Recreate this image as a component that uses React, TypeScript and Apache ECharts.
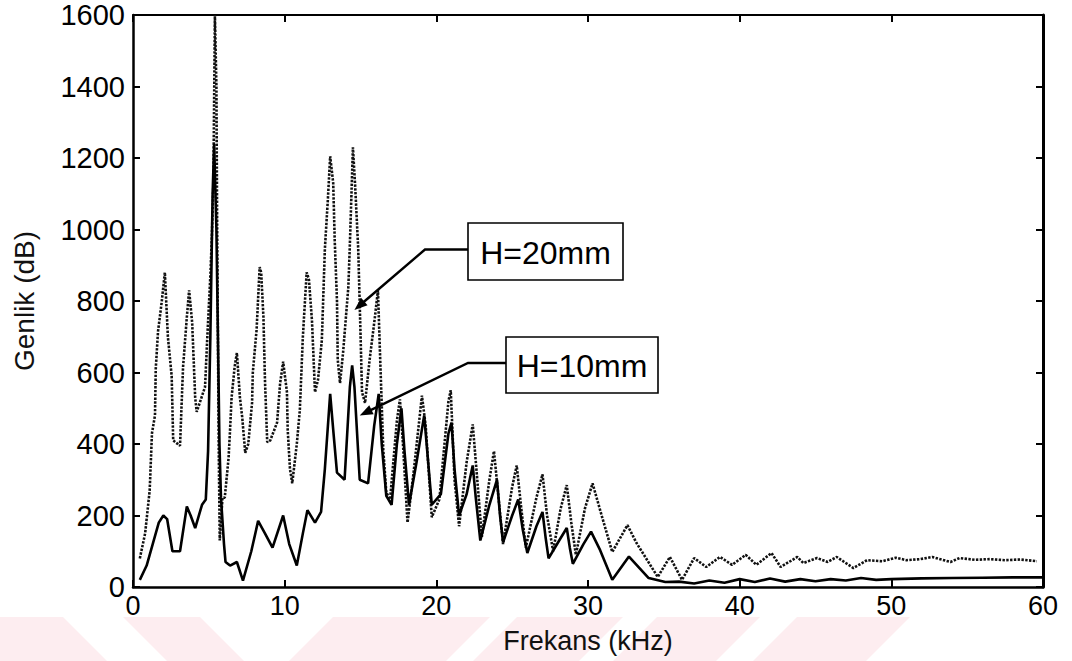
import React, { useEffect, useRef } from "react";
import * as echarts from "echarts";

// H=20mm (dotted line)
const h20Freq = [
  0.45, 0.8, 1.1, 1.25, 1.45, 1.5, 1.65, 1.9, 2.1, 2.3, 2.55, 2.65, 3.1, 3.3, 3.55, 3.7, 3.9, 4.1, 4.2, 4.4,
  4.75, 4.9, 5.1, 5.2, 5.3, 5.4, 5.5, 5.55, 5.6, 5.65, 5.72, 5.9, 6.05, 6.3, 6.4, 6.5, 6.7, 6.85, 7.05, 7.2,
  7.4, 7.6, 7.85, 7.9, 8.15, 8.35, 8.45, 8.6, 8.7, 8.85, 9.05, 9.5, 9.7, 9.9, 10.15, 10.2, 10.35, 10.5, 10.8, 11.0,
  11.2, 11.45, 11.6, 11.8, 11.9, 12.0, 12.2, 12.45, 12.65, 12.85, 13.0, 13.2, 13.3, 13.45, 13.5, 13.65, 13.85, 14.2, 14.3, 14.5,
  14.65, 14.85, 15.0, 15.1, 15.3, 15.6, 15.95, 16.15, 16.3, 16.5, 16.7, 16.95, 17.4, 17.6, 17.8, 18.1, 18.5, 19.05, 19.3, 19.7,
  20.2, 20.8, 20.95, 21.2, 21.5, 22.0, 22.4, 22.7, 23.0, 23.5, 23.8, 24.1, 24.4, 25.0, 25.3, 25.6, 25.9, 26.6, 27.0, 27.3,
  27.7, 28.2, 28.6, 28.9, 29.2, 29.8, 30.3, 30.9, 31.6, 32.6, 33.2, 34.6, 35.4, 36.2, 37.0, 37.8, 38.7, 39.5, 40.4, 41.1,
  42.1, 42.7, 43.8, 44.2, 45.1, 45.8, 46.4, 47.5, 48.4, 49.4, 50.3, 51.0, 51.9, 52.7, 53.9, 54.5, 55.5, 56.5, 57.5, 58.5,
  59.6,
];
const h20Amp = [
  80, 150, 270, 430, 480, 610, 715, 800, 880, 700, 590, 410, 395, 615, 755, 830, 740, 530, 490, 515,
  560, 700, 870, 980, 1130, 1600, 1400, 1000, 700, 400, 130, 250, 250, 360, 440, 530, 615, 655, 530, 475,
  375, 400, 515, 600, 720, 895, 880, 755, 580, 405, 410, 460, 570, 630, 545, 440, 330, 290, 400, 495,
  700, 880, 860, 745, 645, 545, 580, 690, 945, 1085, 1205, 1130, 970, 800, 635, 570, 655, 840, 960, 1230,
  1120, 945, 710, 545, 515, 635, 755, 830, 635, 385, 265, 245, 465, 525, 400, 180, 320, 535, 450, 195,
  245, 520, 550, 300, 170, 350, 455, 300, 140, 300, 380, 250, 120, 280, 340, 220, 110, 250, 315, 200,
  100, 220, 285, 180, 90, 220, 290, 200, 98, 173, 123, 28, 84, 20, 81, 56, 84, 62, 90, 62,
  95, 56, 84, 67, 81, 70, 84, 53, 75, 72, 82, 75, 78, 84, 70, 81, 76, 78, 75, 77,
  72,
];

// H=10mm (solid line)
const h10Freq = [
  0.45, 0.9, 1.3, 1.7, 2.0, 2.25, 2.6, 3.1, 3.55, 3.8, 4.1, 4.55, 4.8, 4.95, 5.1, 5.25, 5.35, 5.5, 5.6, 5.7,
  5.8, 6.0, 6.1, 6.4, 6.85, 7.25, 7.8, 8.25, 8.7, 9.2, 9.9, 10.3, 10.8, 11.2, 11.5, 12.0, 12.4, 12.65, 13.0, 13.2,
  13.45, 13.95, 14.3, 14.45, 14.6, 14.95, 15.5, 15.9, 16.2, 16.4, 16.7, 17.05, 17.4, 17.7, 17.9, 18.2, 18.7, 19.2, 19.4, 19.7,
  20.3, 20.8, 21.0, 21.2, 21.5, 22.0, 22.4, 22.6, 22.9, 23.5, 24.0, 24.2, 24.4, 25.0, 25.4, 25.7, 26.0, 26.6, 27.0, 27.2,
  27.4, 28.1, 28.6, 28.8, 29.0, 29.7, 30.2, 30.8, 31.6, 32.7, 34.0, 35.1, 36.0, 37.0, 38.0, 39.0, 40.0, 41.0, 42.0, 43.0,
  44.0, 45.0, 46.0, 47.0, 48.0, 49.0, 50.0, 52.0, 54.0, 56.0, 58.0, 60.0,
];
const h10Amp = [
  20, 60, 120, 180, 200, 190, 100, 100, 225, 200, 165, 230, 245, 380, 700, 1100, 1240, 1000, 700, 400,
  250, 120, 70, 60, 70, 18, 100, 185, 150, 110, 200, 120, 60, 150, 215, 180, 210, 330, 540, 440,
  320, 300, 560, 620, 560, 300, 290, 450, 540, 400, 255, 230, 400, 500, 380, 230, 350, 480, 380, 230,
  260, 430, 460, 330, 200, 260, 340, 250, 130, 230, 300, 200, 125, 200, 245, 160, 95, 170, 210, 140,
  80, 130, 165, 110, 65, 120, 155, 103, 20, 85, 25, 14, 15, 10, 18, 12, 22, 14, 24, 15,
  22, 16, 22, 18, 25, 20, 22, 24, 25, 26, 27, 27,
];

const seriesNames = ["H=20mm", "H=10mm"];
// annotation anchor points (data coordinates the arrows point at)
const arrowTargets: [number, number][] = [
  [14.6, 775],
  [14.95, 480],
];

const FONT = "'Liberation Sans', Arial, Helvetica, sans-serif";

function zip(xs: number[], ys: number[]) {
  return xs.map((x, i) => [x, ys[i]]);
}

export default function App() {
  const ref = useRef<HTMLDivElement>(null);

  useEffect(() => {
    const el = ref.current!;
    const chart = echarts.init(el, undefined, { renderer: "svg", width: 1072, height: 661 });

    const lineBlack = (w: number) => ({ show: true, onZero: false, lineStyle: { color: "#000", width: w } });
    const tickIn = { show: true, inside: true, length: 7, lineStyle: { color: "#000", width: 2 } };
    const plain = (v: number) => String(v);

    chart.setOption({
      animation: false,
      backgroundColor: "#ffffff",
      grid: { left: 133, right: 29, top: 15, bottom: 74, containLabel: false },
      xAxis: [
        {
          type: "value",
          min: 0,
          max: 60,
          interval: 10,
          position: "bottom",
          axisLine: lineBlack(2.5),
          axisTick: tickIn,
          splitLine: { show: false },
          axisLabel: { color: "#000", fontSize: 27, fontFamily: FONT, margin: 5, formatter: plain },
          name: "Frekans (kHz)",
          nameLocation: "middle",
          nameGap: 40,
          nameTextStyle: { color: "#111", fontSize: 27, fontFamily: FONT },
        },
        {
          type: "value",
          min: 0,
          max: 60,
          interval: 10,
          position: "top",
          axisLine: lineBlack(2),
          axisTick: tickIn,
          splitLine: { show: false },
          axisLabel: { show: false },
        },
      ],
      yAxis: [
        {
          type: "value",
          min: 0,
          max: 1600,
          interval: 200,
          position: "left",
          axisLine: lineBlack(2.5),
          axisTick: tickIn,
          splitLine: { show: false },
          axisLabel: { color: "#000", fontSize: 29, fontFamily: FONT, margin: 8, formatter: plain },
          name: "Genlik (dB)",
          nameLocation: "middle",
          nameGap: 95,
          nameRotate: 90,
          nameTextStyle: { color: "#111", fontSize: 28, fontFamily: FONT },
        },
        {
          type: "value",
          min: 0,
          max: 1600,
          interval: 200,
          position: "right",
          axisLine: lineBlack(3),
          axisTick: tickIn,
          splitLine: { show: false },
          axisLabel: { show: false },
        },
      ],
      series: [
        {
          name: seriesNames[0],
          type: "line",
          data: zip(h20Freq, h20Amp),
          symbol: "none",
          z: 3,
          lineStyle: { color: "#111", width: 2.6, type: [2.4, 1.4] },
        },
        {
          name: seriesNames[1],
          type: "line",
          data: zip(h10Freq, h10Amp),
          symbol: "none",
          z: 4,
          lineStyle: { color: "#000", width: 2.6 },
        },
      ],
    });

    // Annotation boxes, leaders and faint watermark
    const boxes = [
      { x: 468, y: 223, w: 155, h: 57, elbowX: 425 },
      { x: 506, y: 337, w: 152, h: 56, elbowX: 468 },
    ];
    const elements: any[] = [];

    const pink = "#fdedf0";
    const wm: number[][][] = [
      [[0, 617], [63, 617], [107, 661], [0, 661]],
      [[123, 617], [200, 617], [244, 661], [167, 661]],
      [[333, 617], [490, 617], [446, 661], [289, 661]],
      [[517, 617], [623, 617], [579, 661], [473, 661]],
      [[657, 617], [760, 617], [716, 661], [613, 661]],
      [[797, 617], [910, 617], [866, 661], [753, 661]],
    ];
    wm.forEach((pts) =>
      elements.push({ type: "polygon", z: -100, silent: true, shape: { points: pts }, style: { fill: pink } })
    );

    boxes.forEach((b, i) => {
      const tip = chart.convertToPixel({ xAxisIndex: 0, yAxisIndex: 0 }, arrowTargets[i]) as number[];
      const ly = b.y + b.h / 2 - 2;
      const elbow = [b.elbowX, ly];
      elements.push({
        type: "rect",
        z: 10,
        shape: { x: b.x, y: b.y, width: b.w, height: b.h },
        style: { fill: "#fff", stroke: "#000", lineWidth: 1.6 },
      });
      elements.push({
        type: "text",
        z: 11,
        x: b.x + b.w / 2,
        y: b.y + b.h / 2 + 1,
        style: {
          text: seriesNames[i],
          fontSize: 32,
          fontFamily: FONT,
          fill: "#000",
          align: "center",
          verticalAlign: "middle",
        },
      });
      // leader line
      const dx = tip[0] - elbow[0];
      const dy = tip[1] - elbow[1];
      const len = Math.sqrt(dx * dx + dy * dy);
      const ux = dx / len;
      const uy = dy / len;
      const L = 13;
      const W = 5;
      const bx = tip[0] - ux * L;
      const by = tip[1] - uy * L;
      elements.push({
        type: "polyline",
        z: 10,
        shape: { points: [[b.x, ly], elbow, [bx + ux * 2, by + uy * 2]] },
        style: { stroke: "#000", lineWidth: 2.4, fill: null },
      });
      elements.push({
        type: "polygon",
        z: 10,
        shape: {
          points: [
            [tip[0], tip[1]],
            [bx - uy * W, by + ux * W],
            [bx + uy * W, by - ux * W],
          ],
        },
        style: { fill: "#000" },
      });
    });

    chart.setOption({ graphic: { elements } });

    return () => chart.dispose();
  }, []);

  return (
    <div
      ref={ref}
      style={{ position: "absolute", left: 0, top: 0, width: 1072, height: 661, background: "#fff" }}
    />
  );
}
